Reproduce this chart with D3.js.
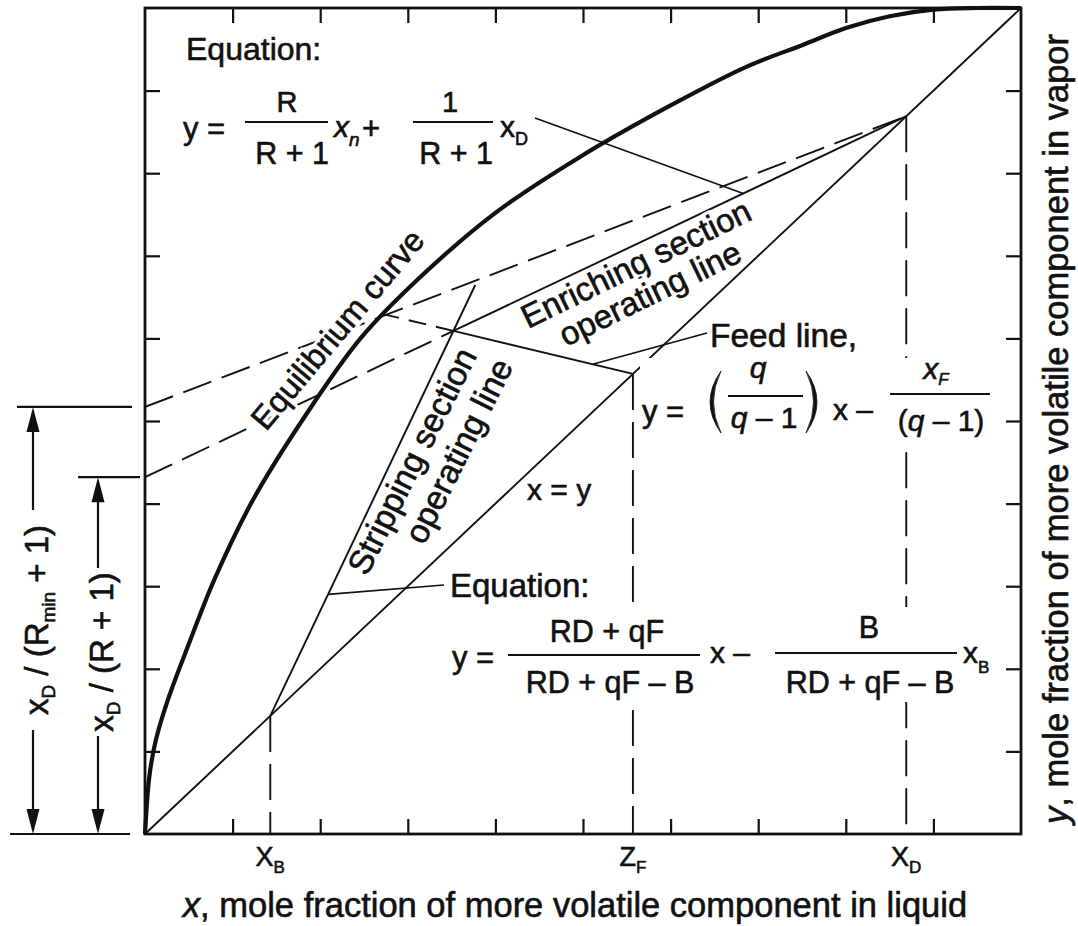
<!DOCTYPE html>
<html>
<head>
<meta charset="utf-8">
<script src="https://cdn.jsdelivr.net/npm/d3@7"></script>
<style>
  body { margin: 0; background: #fff; }
  svg { display: block; }
  text { font-family: "Liberation Sans", Arial, Helvetica, sans-serif; fill: #111; }
  text.ink { stroke: #111; stroke-width: 0.6px; }
</style>
</head>
<body>
<svg id="chart" width="1078" height="926"></svg>
<script>
// Vapour-liquid equilibrium curve (x liquid, y vapour)
const eqX = [0, 0.005, 0.012, 0.026, 0.05, 0.08, 0.123, 0.179, 0.246, 0.314, 0.4, 0.497, 0.6, 0.687, 0.75, 0.801, 0.85, 0.9, 0.95, 1];
const eqY = [0, 0.07, 0.112, 0.162, 0.23, 0.31, 0.404, 0.50, 0.60, 0.674, 0.752, 0.82, 0.882, 0.929, 0.955, 0.976, 0.99, 0.998, 1.0, 1];

// Key compositions
const xB = 0.143;   // bottoms
const zF = 0.557;   // feed
const xD = 0.869;   // distillate

// y-intercepts of the enriching lines: xD/(R+1) and xD/(Rmin+1)
const interceptR = 0.432;
const interceptRmin = 0.517;

// Slope of the feed line, q/(q-1)
const feedSlope = -0.254;

// Stripping line is drawn a little past the feed intersection
const strippingEndX = 0.377;

// Interior tick positions on all four sides
const gridTicks = [0.1, 0.2, 0.3, 0.4, 0.5, 0.6, 0.7, 0.8, 0.9];

// Labelled compositions on the x axis
const markerValues = [xB, zF, xD];
const markerBase = ["X", "Z", "X"];
const markerSub = ["B", "F", "D"];

const svg = d3.select("#chart");
const x = d3.scaleLinear().domain([0, 1]).range([145, 1021]);
const y = d3.scaleLinear().domain([0, 1]).range([834, 8]);

const line = d3.line().x(d => x(d[0])).y(d => y(d[1]));
const INK = "#111";

// ---- derived geometry of the operating lines ----
const mR = (xD - interceptR) / xD;
const mRmin = (xD - interceptRmin) / xD;
const feedY = v => zF + feedSlope * (v - zF);
const xi = (zF - feedSlope * zF - interceptR) / (mR - feedSlope);      // enriching ∩ feed
const yi = interceptR + mR * xi;
const xp = (zF - feedSlope * zF - interceptRmin) / (mRmin - feedSlope); // pinch
const yp = interceptRmin + mRmin * xp;
const mS = (yi - xB) / (xi - xB);

const dash = "30,11";
const vdash = "36,12";

function stroke(d, w, da) {
  const p = svg.append("path").attr("d", d)
    .attr("stroke", INK).attr("stroke-width", w).attr("fill", "none");
  if (da) p.attr("stroke-dasharray", da);
  return p;
}

// ---- dashed drop lines to the x axis ----
markerValues.forEach(v => stroke(line([[v, v], [v, 0]]), 1.9, vdash));

// ---- diagonal x = y ----
stroke(line([[0, 0], [1, 1]]), 1.9);

// ---- minimum reflux line (dashed) ----
stroke(line([[0, interceptRmin], [xD, xD]]), 1.9, dash);

// ---- enriching operating line ----
stroke(line([[0, interceptR], [xi, yi]]), 1.9, dash);
stroke(line([[xi, yi], [xD, xD]]), 1.9);

// ---- feed line ----
stroke(line([[zF, zF], [xi, yi]]), 1.9);
stroke(line([[xi, yi], [xp, yp]]), 1.9, "18,10");

// ---- stripping operating line ----
stroke(line([[xB, xB], [strippingEndX, xB + mS * (strippingEndX - xB)]]), 1.9);

// ---- equilibrium curve ----
stroke(d3.line().x(d => x(d[0])).y(d => y(d[1])).curve(d3.curveCatmullRom.alpha(0.5))(eqX.map((v, i) => [v, eqY[i]])), 4.2);

// ---- frame and inward ticks ----
function ticks(axis, tx, ty) {
  const g = svg.append("g").attr("transform", `translate(${tx},${ty})`)
    .call(axis.tickValues(gridTicks).tickSize(-15).tickFormat(""));
  g.select(".domain").remove();
  g.selectAll(".tick line").attr("stroke", INK).attr("stroke-width", 2.2);
}
ticks(d3.axisBottom(x), 0, y(0));
ticks(d3.axisTop(x), 0, y(1));
ticks(d3.axisLeft(y), x(0), 0);
ticks(d3.axisRight(y), x(1), 0);

svg.append("rect")
  .attr("x", x(0)).attr("y", y(1))
  .attr("width", x(1) - x(0)).attr("height", y(0) - y(1))
  .attr("fill", "none").attr("stroke", INK).attr("stroke-width", 2.8);

// ---- helpers for text ----
function txt(px, py, str, opts = {}) {
  const make = cls => {
    const t = svg.append("text").attr("x", px).attr("y", py)
      .attr("class", cls)
      .attr("font-size", opts.size || 30)
      .attr("text-anchor", opts.anchor || "start")
      .text(str);
    if (opts.italic) t.attr("font-style", "italic");
    if (opts.rotate !== undefined) t.attr("transform", `rotate(${opts.rotate},${px},${py})`);
    return t;
  };
  if (opts.halo) make("halo").attr("fill", "#fff").attr("stroke", "#fff").attr("stroke-width", opts.halo);
  return make("ink");
}
function rich(px, py, size, anchor, parts, transform) {
  const t = svg.append("text").attr("class", "ink").attr("font-size", size).attr("text-anchor", anchor);
  if (transform) t.attr("transform", transform); else t.attr("x", px).attr("y", py);
  parts.forEach(p => {
    const s = t.append("tspan").text(p.t);
    if (p.i) s.attr("font-style", "italic");
    if (p.size) s.attr("font-size", p.size);
    if (p.dy) s.attr("dy", p.dy);
  });
  return t;
}
function rule(x1, y1, x2, y2, w = 1.7) {
  svg.append("line").attr("x1", x1).attr("y1", y1).attr("x2", x2).attr("y2", y2)
    .attr("stroke", INK).attr("stroke-width", w);
}
function whiteBox(x0, y0, w, h) {
  svg.append("rect").attr("x", x0).attr("y", y0).attr("width", w).attr("height", h).attr("fill", "#fff");
}
// tall thin bracket drawn as a crescent; dir = -1 for "(", +1 for ")"
function paren(px, top, bottom, dir) {
  const mid = (top + bottom) / 2;
  svg.append("path")
    .attr("d", `M${px},${top} Q${px + dir * 22},${mid} ${px},${bottom} Q${px + dir * 15},${mid} ${px},${top} Z`)
    .attr("fill", INK).attr("stroke", INK).attr("stroke-width", 0.8);
}

// ---- x-axis composition labels ----
markerValues.forEach((v, i) => {
  rich(x(v), 866, 27, "middle", [{ t: markerBase[i] }, { t: markerSub[i], size: 17, dy: 7 }]);
});

// ---- axis titles ----
rich(575, 917, 34.5, "middle", [{ t: "x", i: true }, { t: ", mole fraction of more volatile component in liquid" }]);
rich(0, 0, 34.5, "middle", [{ t: "y", i: true }, { t: ", mole fraction of more volatile component in vapor" }],
  "translate(1068,429) rotate(-90)");

// ---- top equation: enriching section ----
txt(186, 60, "Equation:", { size: 32 });
txt(183, 139, "y =", { size: 31 });
rule(245, 122, 328, 122, 2);
txt(287, 112, "R", { size: 29, anchor: "middle" });
txt(292, 164, "R + 1", { size: 30.5, anchor: "middle" });
rich(334, 137, 30, "start", [{ t: "x", i: true }, { t: "n", i: true, size: 19, dy: 9 }]);
txt(362, 139, "+", { size: 31 });
rule(413, 122, 493, 122, 2);
txt(450, 112, "1", { size: 29, anchor: "middle" });
txt(456, 164, "R + 1", { size: 30.5, anchor: "middle" });
rich(500, 137, 30, "start", [{ t: "x" }, { t: "D", size: 18, dy: 8 }]);
rule(535, 118, x(0.683), y(interceptR + mR * 0.683));

// ---- rotated line labels ----
txt(266, 432, "Equilibrium curve", { size: 32.5, rotate: -50, halo: 7 });
txt(528, 329, "Enriching section", { size: 33, rotate: -26, halo: 7 });
txt(566, 347, "operating line", { size: 33, rotate: -26, halo: 10 });
txt(367, 577, "Stripping section", { size: 33.5, rotate: -63.5, halo: 6 });
txt(424, 546, "operating line", { size: 33.5, rotate: -63.5, halo: 6 });

// ---- feed line label and equation ----
txt(710, 347, "Feed line,", { size: 33.5 });
rule(707, 333, x(0.511), y(feedY(0.511)));
whiteBox(640, 358, 355, 84);
txt(642, 422, "y =", { size: 31 });
paren(721, 371, 433, -1);
txt(758, 378, "q", { size: 30, anchor: "middle", italic: true });
rule(728, 396, 803, 396, 2);
rich(764, 428, 30, "middle", [{ t: "q", i: true }, { t: " – 1" }]);
paren(806, 371, 433, 1);
txt(833, 420, "x –", { size: 30 });
rule(890, 394, 990, 394, 2);
rich(936, 379, 30, "middle", [{ t: "x", i: true }, { t: "F", i: true, size: 17, dy: 6 }]);
rich(941, 431, 30, "middle", [{ t: "(" }, { t: "q", i: true }, { t: " – 1)" }]);

// ---- diagonal label ----
txt(527, 500, "x = y", { size: 30 });

// ---- bottom equation: stripping section ----
txt(450, 597, "Equation:", { size: 33 });
rule(444, 585, x(0.209), y(xB + mS * (0.209 - xB)));
whiteBox(446, 607, 556, 95);
txt(452, 668, "y =", { size: 31 });
rule(508, 655, 700, 655, 2);
txt(607, 642, "RD + qF", { size: 30.5, anchor: "middle" });
txt(610, 693, "RD + qF – B", { size: 30.5, anchor: "middle" });
txt(710, 663, "x –", { size: 30 });
rule(775, 653, 957, 653, 2);
txt(869, 638, "B", { size: 30.5, anchor: "middle" });
txt(870, 693, "RD + qF – B", { size: 30.5, anchor: "middle" });
rich(963, 663, 30, "start", [{ t: "x" }, { t: "B", size: 17, dy: 10 }]);

// ---- intercept dimension arrows on the left ----
function dimension(ax, yTop, xl, xr, textCenter, textHalf, parts) {
  rule(xl, y(yTop), xr, y(yTop), 2.2);
  const top = y(yTop), bot = y(0);
  rule(ax, top + 20, ax, textCenter - textHalf, 2.2);
  rule(ax, textCenter + textHalf, ax, bot - 20, 2.2);
  svg.append("path").attr("d", `M${ax},${top} L${ax - 6.5},${top + 25} L${ax + 6.5},${top + 25} Z`).attr("fill", INK);
  svg.append("path").attr("d", `M${ax},${bot} L${ax - 6.5},${bot - 25} L${ax + 6.5},${bot - 25} Z`).attr("fill", INK);
  rich(0, 0, 33, "middle", parts, `translate(${ax + 15},${textCenter}) rotate(-90)`);
}
rule(10, y(0), 130, y(0), 2.2);
dimension(33, interceptRmin, 17, 132, 620, 110, [
  { t: "x" }, { t: "D", size: 19, dy: 7 }, { t: " / (R", dy: -7 }, { t: "min", size: 19, dy: 7 }, { t: " + 1)", dy: -7 }
]);
dimension(98, interceptR, 78, 140, 652, 84, [
  { t: "x" }, { t: "D", size: 19, dy: 7 }, { t: " / (R + 1)", dy: -7 }
]);
</script>
</body>
</html>
